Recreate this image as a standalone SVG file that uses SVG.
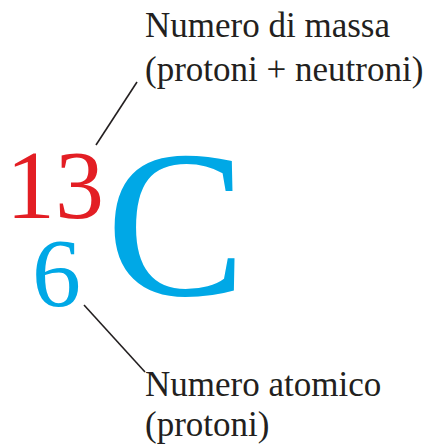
<svg xmlns="http://www.w3.org/2000/svg" width="446" height="444" viewBox="0 0 446 444">
<rect width="446" height="444" fill="#ffffff"/>
<g id="symbol">
<text x="6" y="218" style="font-family:'Liberation Serif',serif;font-size:98px;fill:#e31e24">13</text>
<text x="32" y="306" style="font-family:'Liberation Serif',serif;font-size:98px;fill:#00a8e6">6</text>
<text x="106" y="295" style="font-family:'Liberation Serif',serif;font-size:210px;fill:#00a8e6">C</text>
</g>
<g id="mass-label">
<text x="145" y="37" style="font-family:'Liberation Serif',serif;font-size:35px;fill:#231f20">Numero di massa</text>
<text x="145" y="81" style="font-family:'Liberation Serif',serif;font-size:35px;fill:#231f20">(protoni + neutroni)</text>
</g>
<g id="atomic-label">
<text x="145" y="396" style="font-family:'Liberation Serif',serif;font-size:35px;fill:#231f20">Numero atomico</text>
<text x="145" y="436" style="font-family:'Liberation Serif',serif;font-size:35px;fill:#231f20">(protoni)</text>
</g>
<g id="connectors" stroke="#231f20" stroke-width="1.6" fill="none">
<line x1="137" y1="82" x2="96" y2="145"/>
<line x1="84" y1="305" x2="145" y2="372"/>
</g>
</svg>
